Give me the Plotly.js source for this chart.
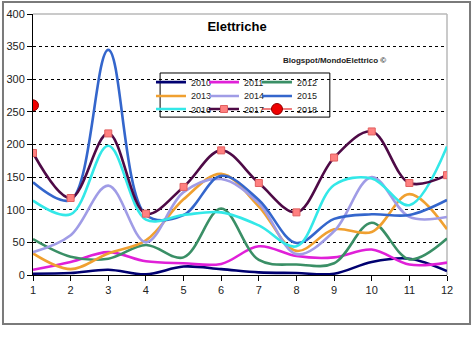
<!DOCTYPE html>
<html>
<head>
<meta charset="utf-8">
<script src="https://cdn.plot.ly/plotly-3.0.1.min.js"></script>
<style>html,body{margin:0;padding:0;background:#fff;}#chart{width:474px;height:339px;}</style>
</head>
<body>
<div id="chart"></div>
<script>
const months = [1,2,3,4,5,6,7,8,9,10,11,12];
const yearNames = ["2010","2011","2012","2013","2014","2015","2016","2017","2018"];
const v2010 = [2, 3, 8, 1, 13, 9, 4, 3, 2, 20, 25, 6];
const v2011 = [8, 20, 35, 21, 18, 17, 44, 29, 27, 39, 16, 19];
const v2012 = [55, 28, 25, 46, 27, 102, 23, 16, 18, 80, 24, 56];
const v2013 = [33, 9, 33, 53, 116, 155, 105, 37, 70, 66, 124, 70];
const v2014 = [35, 61, 137, 50, 127, 147, 110, 32, 67, 150, 89, 89];
const v2015 = [142, 115, 345, 92, 92, 152, 115, 49, 86, 93, 92, 115];
const v2016 = [114, 93, 198, 85, 92, 96, 76, 44, 138, 148, 107, 197];
const v2017 = [187, 118, 217, 94, 135, 191, 141, 96, 180, 220, 141, 153];
const v2018 = [260, null, null, null, null, null, null, null, null, null, null, null];
const gridTicks = [0,50,100,150,200,250,300,350];
const topTick = [400];

const seriesVals = [v2010,v2011,v2012,v2013,v2014,v2015,v2016,v2017,v2018];
const colors = ["#000070","#E020D8","#3A8F66","#F0A030","#A09CE6","#3466CC","#33E8E8","#4E0A46","#E00000"];

const legFont = {family: "Liberation Sans, Arial, sans-serif", size: 9, color: "#222"};
const legColX = [0.285, 0.413, 0.541];
const legRowY = [0.739, 0.686, 0.636];

const layout = {
  width: 474, height: 339,
  margin: {l: 33, r: 27, t: 14, b: 64},
  paper_bgcolor: "#fff", plot_bgcolor: "#fff",
  font: {family: "Liberation Sans, Arial, sans-serif", size: 11, color: "#222"},
  showlegend: true
};

const traces = seriesVals.map((vals, i) => {
  const legName = i === 0 ? "legend" : "legend" + (i + 1);
  layout[legName] = {orientation: "h", x: legColX[i % 3], xanchor: "left", y: legRowY[Math.floor(i / 3)], yanchor: "middle",
    bgcolor: "rgba(0,0,0,0)", borderwidth: 0, font: legFont, itemclick: false, itemdoubleclick: false};
  const t = {
    x: months, y: vals, name: yearNames[i], type: "scatter",
    mode: "lines", legend: legName,
    line: {color: colors[i], width: 2.6, shape: "spline", smoothing: 1},
    hoverinfo: "skip"
  };
  if (yearNames[i] === "2017") {
    t.mode = "lines+markers";
    t.marker = {symbol: "square", size: 7, color: "#FF8080", line: {color: "#E06060", width: 1}};
  }
  if (yearNames[i] === "2018") {
    t.mode = "lines+markers";
    t.line.width = 1.2;
    t.marker = {symbol: "circle", size: 11, color: "#F00000", line: {color: "#900000", width: 1}};
  }
  return t;
});

const tickFont = {family: "Liberation Sans, Arial, sans-serif", size: 11, color: "#222"};

Object.assign(layout, {
  title: {text: "<b>Elettriche</b>", x: 0.5, xref: "container", y: 0.923, yref: "container", yanchor: "middle",
    font: {family: "Liberation Sans, Arial, sans-serif", size: 13, color: "#000"}},
  xaxis: {range: [1, 12], tickvals: months, ticks: "outside", ticklen: 5, tickcolor: "#000",
    showline: true, linecolor: "#000", linewidth: 1, showgrid: false, zeroline: false,
    tickfont: tickFont, fixedrange: true},
  yaxis: {range: [0, 400], tickvals: gridTicks, ticks: "outside", ticklen: 5, tickcolor: "#000",
    showline: true, linecolor: "#000", linewidth: 1, showgrid: true, gridcolor: "#000", gridwidth: 1,
    griddash: "3px,3px", zeroline: false, tickfont: tickFont, fixedrange: true},
  yaxis2: {range: [0, 400], overlaying: "y", side: "left", tickvals: topTick, ticks: "outside", ticklen: 5,
    tickcolor: "#000", showline: false, showgrid: false, zeroline: false, tickfont: tickFont, fixedrange: true},
  annotations: [{text: "<b>Blogspot/MondoElettrico ©</b>", xref: "paper", yref: "paper",
    x: 0.729, y: 0.82, xanchor: "center", yanchor: "middle", showarrow: false,
    font: {family: "Liberation Sans, Arial, sans-serif", size: 8, color: "#222"}}],
  shapes: [
    {type: "line", xref: "paper", yref: "paper", x0: 0, x1: 1, y0: 1, y1: 1, line: {color: "#B8B8B8", width: 1.5}, layer: "below"},
    {type: "line", xref: "paper", yref: "paper", x0: 1, x1: 1, y0: 0, y1: 1, line: {color: "#B8B8B8", width: 1.5}, layer: "below"},
    {type: "rect", xref: "paper", yref: "paper", x0: 0.307, x1: 0.717, y0: 0.605, y1: 0.774, line: {color: "#000", width: 1}, fillcolor: "rgba(0,0,0,0)", layer: "above"},
    {type: "rect", xref: "paper", yref: "paper", x0: -0.0725, x1: 1.0556, y0: -0.1877, y1: 1.046, line: {color: "#7A7A7A", width: 2}, fillcolor: "rgba(0,0,0,0)", layer: "above"}
  ]
});

// helper trace bound to yaxis2 so its 400 label is drawn
traces.push({x: [1], y: [null], yaxis: "y2", type: "scatter", mode: "lines", showlegend: false, hoverinfo: "skip"});

Plotly.newPlot("chart", traces, layout, {staticPlot: true, displayModeBar: false});
</script>
</body>
</html>
